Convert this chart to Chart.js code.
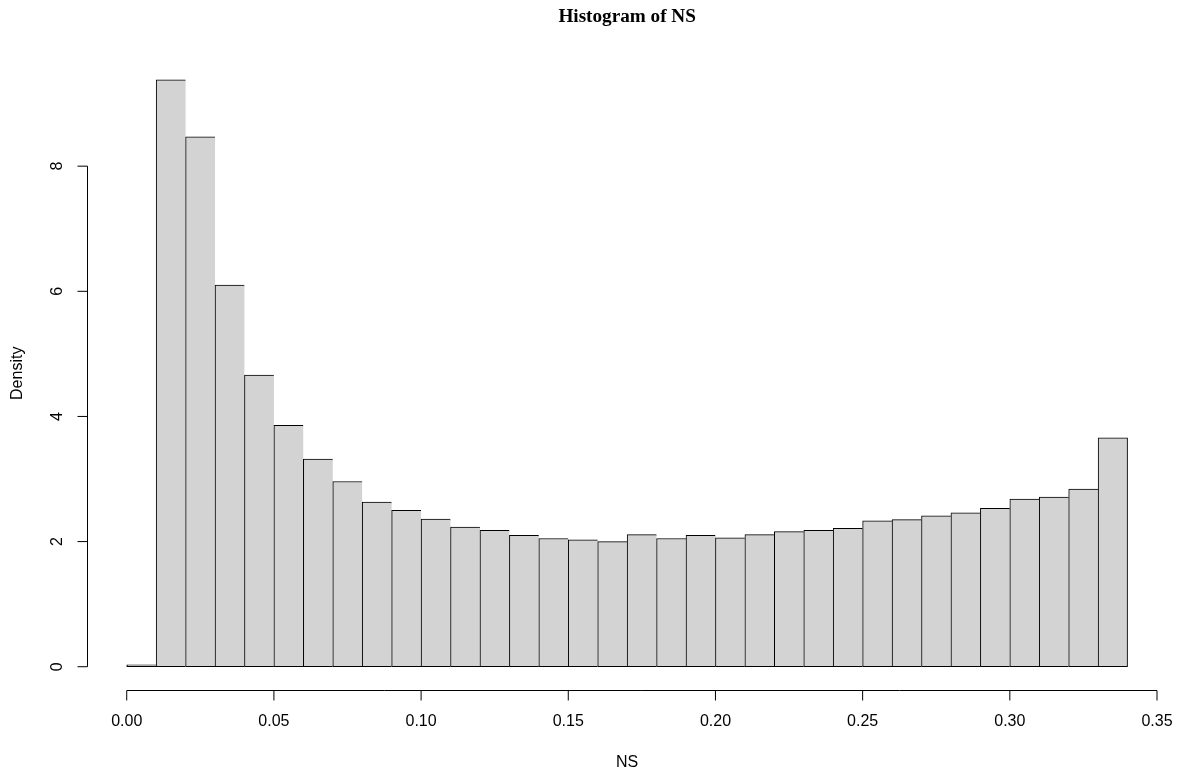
<!DOCTYPE html>
<html>
<head>
<meta charset="utf-8">
<title>Histogram of NS</title>
<script src="https://cdn.jsdelivr.net/npm/chart.js@4.4.0/dist/chart.umd.min.js"></script>
<style>
  html, body { margin: 0; padding: 0; background: #fff; overflow: hidden; }
  canvas { display: block; }
</style>
</head>
<body>
<canvas id="histChart" width="1181" height="775"></canvas>
<script>
// bin edges of the histogram
const breaks = [0.00, 0.01, 0.02, 0.03, 0.04, 0.05, 0.06, 0.07, 0.08, 0.09,
                0.10, 0.11, 0.12, 0.13, 0.14, 0.15, 0.16, 0.17, 0.18, 0.19,
                0.20, 0.21, 0.22, 0.23, 0.24, 0.25, 0.26, 0.27, 0.28, 0.29,
                0.30, 0.31, 0.32, 0.33, 0.34];

// density of each bin
const density = [0.03, 9.38, 8.47, 6.10, 4.66, 3.86, 3.32, 2.96, 2.63, 2.50,
                 2.36, 2.23, 2.18, 2.10, 2.05, 2.03, 2.00, 2.11, 2.05, 2.10,
                 2.06, 2.11, 2.16, 2.18, 2.21, 2.33, 2.35, 2.41, 2.46, 2.53,
                 2.68, 2.71, 2.84, 3.66];

const xTicks = [0.00, 0.05, 0.10, 0.15, 0.20, 0.25, 0.30, 0.35];
const xTickLabels = ['0.00', '0.05', '0.10', '0.15', '0.20', '0.25', '0.30', '0.35'];
const yTicks = [0, 2, 4, 6, 8];
const yTickLabels = ['0', '2', '4', '6', '8'];

const titleText = 'Histogram of NS';
const xTitle = 'NS';
const yTitle = 'Density';

// R style axis limits: range extended by 4% on each side
const xLo = breaks[0], xHi = breaks[breaks.length - 1];
const yHi = Math.max(...density);
const xPad = (xHi - xLo) * 0.04;
const yPad = yHi * 0.04;

const points = density.map((d, i) => ({ x: (breaks[i] + breaks[i + 1]) / 2, y: d }));

const LABEL_FONT = '16px "Liberation Sans", Arial, sans-serif';
const TITLE_FONT = 'bold 19.2px "Liberation Serif", "Times New Roman", serif';

// draws the detached R-like axes, labels and title
const rAxes = {
    id: 'rAxes',
    afterDraw(chart) {
        const { ctx, chartArea, scales } = chart;
        const xs = scales.x, ys = scales.y;
        ctx.save();
        ctx.strokeStyle = '#000';
        ctx.fillStyle = '#000';
        ctx.lineWidth = 1;

        // x axis
        const ay = Math.round(chartArea.bottom) + 0.5;
        const x0 = xs.getPixelForValue(xTicks[0]);
        const x1 = xs.getPixelForValue(xTicks[xTicks.length - 1]);
        ctx.beginPath();
        ctx.moveTo(x0, ay);
        ctx.lineTo(x1, ay);
        xTicks.forEach(v => {
            const px = xs.getPixelForValue(v);
            ctx.moveTo(px, ay);
            ctx.lineTo(px, ay + 10);
        });
        ctx.stroke();
        ctx.font = LABEL_FONT;
        ctx.textAlign = 'center';
        ctx.textBaseline = 'middle';
        xTicks.forEach((v, i) => {
            ctx.fillText(xTickLabels[i], xs.getPixelForValue(v), ay + 31);
        });

        // y axis
        const ax = Math.round(chartArea.left) + 0.5;
        const y0 = ys.getPixelForValue(yTicks[0]);
        const y1 = ys.getPixelForValue(yTicks[yTicks.length - 1]);
        ctx.beginPath();
        ctx.moveTo(ax, y0);
        ctx.lineTo(ax, y1);
        yTicks.forEach(v => {
            const py = ys.getPixelForValue(v);
            ctx.moveTo(ax, py);
            ctx.lineTo(ax - 10, py);
        });
        ctx.stroke();
        yTicks.forEach((v, i) => {
            ctx.save();
            ctx.translate(ax - 30, ys.getPixelForValue(v));
            ctx.rotate(-Math.PI / 2);
            ctx.fillText(yTickLabels[i], 0, 0);
            ctx.restore();
        });

        // axis titles
        const cx = (chartArea.left + chartArea.right) / 2;
        const cy = (chartArea.top + chartArea.bottom) / 2;
        ctx.fillText(xTitle, cx, 763);
        ctx.save();
        ctx.translate(18, cy);
        ctx.rotate(-Math.PI / 2);
        ctx.fillText(yTitle, 0, 0);
        ctx.restore();

        // main title
        ctx.font = TITLE_FONT;
        ctx.fillText(titleText, cx, 17);
        ctx.restore();
    }
};

const last = density.length - 1;

new Chart('histChart', {
    type: 'bar',
    data: {
        datasets: [{
            label: 'Density',
            data: points,
            backgroundColor: '#d3d3d3',
            borderColor: '#000',
            borderWidth: ctx => ({ top: 1, left: 1, bottom: 1, right: ctx.dataIndex === last ? 1 : 0 }),
            borderSkipped: false,
            barPercentage: 1,
            categoryPercentage: 1
        }]
    },
    options: {
        responsive: false,
        animation: false,
        devicePixelRatio: 1,
        layout: {
            padding: { left: 86.7, right: 13.4, top: 56.35, bottom: 84.8 }
        },
        plugins: {
            legend: { display: false },
            tooltip: { enabled: false },
            title: { display: false }
        },
        scales: {
            x: {
                type: 'linear',
                display: false,
                offset: false,
                min: xLo - xPad,
                max: xHi + xPad,
                afterBuildTicks: scale => {
                    scale.ticks = breaks.map(v => ({ value: v }));
                }
            },
            y: {
                display: false,
                min: -yPad,
                max: yHi + yPad
            }
        }
    },
    plugins: [rAxes]
});
</script>
</body>
</html>
